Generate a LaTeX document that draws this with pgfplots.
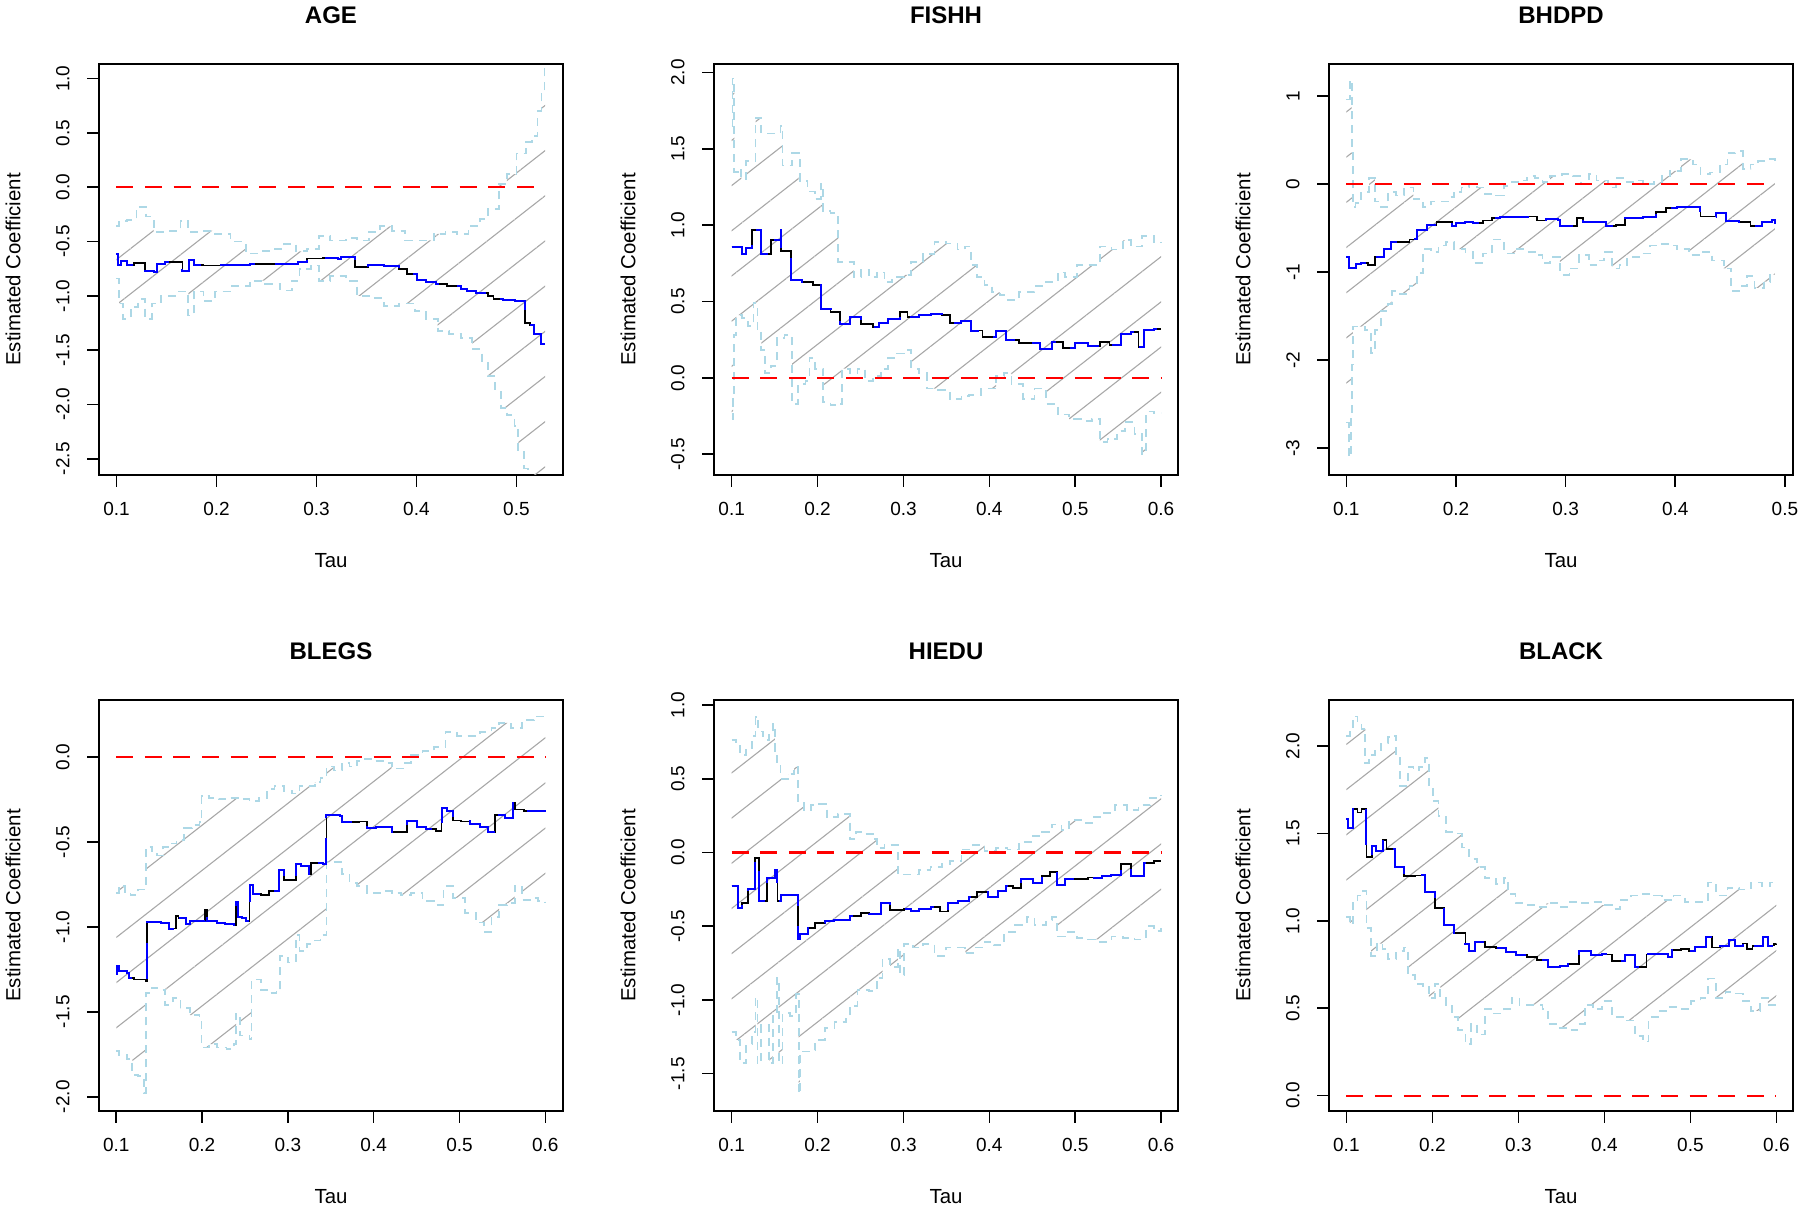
\documentclass[border=0pt]{standalone}
\usepackage{fontspec}
\setmainfont{Liberation Sans}
\usepackage{pgfplots}
\pgfplotsset{compat=1.18}
\usepgfplotslibrary{fillbetween}
\usetikzlibrary{patterns.meta}
\definecolor{lblue}{HTML}{ADD8E6}
\definecolor{hgray}{HTML}{A8A8A8}
\pgfplotsset{
  rpanel/.style={
    scale only axis, width=232pt, height=205.5pt, anchor=south west,
    axis line style={line width=0.8pt},
    tick style={black, line width=0.8pt},
    tick align=outside, major tick length=6pt,
    xtick pos=left, ytick pos=left,
    ticklabel style={font=\fontsize{9.5}{11}\selectfont, inner sep=0pt},
    xticklabel style={anchor=north},
    yticklabel style={rotate=90, anchor=south},
    xticklabel shift=7.5pt, yticklabel shift=8.5pt,
    xlabel={Tau}, ylabel={Estimated Coefficient},
    label style={font=\fontsize{10.2}{12}\selectfont, inner sep=0pt},
    xlabel style={at={(axis description cs:0.5,-0.19)}, anchor=north},
    ylabel style={at={(axis description cs:-0.168,0.5)}, anchor=south},
    every axis title shift=0pt,
    title style={font=\bfseries\fontsize{12}{14}\selectfont, at={(axis description cs:0.5,1.098)}, anchor=base, inner sep=0pt},
  },
  band/.style={const plot, lblue, line width=0.9pt, dash pattern=on 4pt off 3pt},
  ctrk/.style={const plot, black, line width=0.9pt},
  ctrb/.style={const plot, blue, line width=1pt, dash pattern=on 18pt off 10pt},
  zline/.style={red, line width=1.1pt, dash pattern=on 8.5pt off 5.8pt},
  hatch/.style={draw=none, pattern={Lines[angle=38,distance=17.8pt,line width=0.55pt]}, pattern color=hgray},
}
\begin{document}
\begin{tikzpicture}
\path (0,0) rectangle (900pt,604.5pt);
% ---------------- AGE
\begin{axis}[rpanel, at={(49.5pt,367pt)}, title={AGE},
  xmin=0.0825, xmax=0.5466, ymin=-2.649, ymax=1.135,
  xtick={0.1,0.2,0.3,0.4,0.5}, xticklabels={0.1,0.2,0.3,0.4,0.5},
  ytick={-2.5,-2,-1.5,-1,-0.5,0,0.5,1}, yticklabels={-2.5,-2.0,-1.5,-1.0,-0.5,0.0,0.5,1.0}]
\addplot[band, name path=U] table[row sep=\\]{x y\\
0.1000 -0.36\\ 0.1027 -0.31\\ 0.1104 -0.30\\ 0.1200 -0.18\\ 0.1296 -0.27\\ 0.1372 -0.41\\ 0.1488 -0.40\\ 0.1641 -0.31\\ 0.1718 -0.41\\ 0.1833 -0.40\\ 0.1987 -0.43\\ 0.2140 -0.50\\ 0.2294 -0.61\\ 0.2447 -0.59\\ 0.2562 -0.57\\ 0.2678 -0.52\\ 0.2793 -0.59\\ 0.2908 -0.57\\ 0.3023 -0.45\\ 0.3138 -0.49\\ 0.3292 -0.47\\ 0.3407 -0.49\\ 0.3522 -0.41\\ 0.3637 -0.36\\ 0.3752 -0.40\\ 0.3887 -0.49\\ 0.4021 -0.49\\ 0.4175 -0.43\\ 0.4290 -0.41\\ 0.4405 -0.43\\ 0.4520 -0.36\\ 0.4635 -0.29\\ 0.4712 -0.20\\ 0.4827 0.03\\ 0.4904 0.12\\ 0.5000 0.31\\ 0.5096 0.42\\ 0.5154 0.47\\ 0.5211 0.70\\ 0.5250 0.88\\ 0.5280 1.13\\ 0.5288 1.13\\
};
\addplot[band, name path=L] table[row sep=\\]{x y\\
0.1000 -0.84\\ 0.1027 -1.07\\ 0.1065 -1.21\\ 0.1142 -1.10\\ 0.1219 -1.03\\ 0.1288 -1.21\\ 0.1353 -1.07\\ 0.1449 -1.00\\ 0.1603 -0.96\\ 0.1718 -1.18\\ 0.1775 -0.96\\ 0.1871 -1.05\\ 0.1987 -0.96\\ 0.2140 -0.91\\ 0.2332 -0.86\\ 0.2486 -0.89\\ 0.2639 -0.95\\ 0.2754 -0.86\\ 0.2831 -0.75\\ 0.2946 -0.72\\ 0.3023 -0.86\\ 0.3138 -0.82\\ 0.3292 -0.86\\ 0.3407 -1.00\\ 0.3560 -1.02\\ 0.3676 -1.09\\ 0.3829 -1.07\\ 0.3983 -1.14\\ 0.4098 -1.21\\ 0.4213 -1.32\\ 0.4328 -1.35\\ 0.4443 -1.39\\ 0.4559 -1.49\\ 0.4655 -1.60\\ 0.4712 -1.74\\ 0.4789 -1.88\\ 0.4846 -2.03\\ 0.4904 -2.10\\ 0.4981 -2.20\\ 0.5019 -2.42\\ 0.5077 -2.59\\ 0.5115 -2.66\\ 0.5192 -2.85\\ 0.5250 -3.00\\ 0.5288 -3.10\\
};
\addplot[hatch] fill between[of=U and L];
\addplot[zline] coordinates {(0.1,0) (0.5288,0)};
\addplot[ctrk] table[row sep=\\]{x y\\
0.1000 -0.61\\ 0.1019 -0.715\\ 0.1046 -0.68\\ 0.1104 -0.715\\ 0.1173 -0.70\\ 0.1288 -0.77\\ 0.1380 -0.78\\ 0.1403 -0.71\\ 0.1488 -0.69\\ 0.1660 -0.77\\ 0.1726 -0.67\\ 0.1775 -0.715\\ 0.1871 -0.72\\ 0.2140 -0.715\\ 0.2332 -0.71\\ 0.2716 -0.71\\ 0.2812 -0.69\\ 0.2908 -0.655\\ 0.3061 -0.652\\ 0.3215 -0.66\\ 0.3242 -0.64\\ 0.3388 -0.733\\ 0.3514 -0.715\\ 0.3676 -0.726\\ 0.3829 -0.75\\ 0.3906 -0.80\\ 0.4002 -0.85\\ 0.4098 -0.875\\ 0.4194 -0.893\\ 0.4309 -0.91\\ 0.4443 -0.935\\ 0.4501 -0.956\\ 0.4597 -0.97\\ 0.4712 -1.00\\ 0.4770 -1.027\\ 0.4866 -1.04\\ 0.4981 -1.05\\ 0.5088 -1.247\\ 0.5134 -1.265\\ 0.5173 -1.353\\ 0.5242 -1.44\\ 0.5288 -1.44\\
};
\addplot[ctrb] table[row sep=\\]{x y\\
0.1000 -0.61\\ 0.1019 -0.715\\ 0.1046 -0.68\\ 0.1104 -0.715\\ 0.1173 -0.70\\ 0.1288 -0.77\\ 0.1380 -0.78\\ 0.1403 -0.71\\ 0.1488 -0.69\\ 0.1660 -0.77\\ 0.1726 -0.67\\ 0.1775 -0.715\\ 0.1871 -0.72\\ 0.2140 -0.715\\ 0.2332 -0.71\\ 0.2716 -0.71\\ 0.2812 -0.69\\ 0.2908 -0.655\\ 0.3061 -0.652\\ 0.3215 -0.66\\ 0.3242 -0.64\\ 0.3388 -0.733\\ 0.3514 -0.715\\ 0.3676 -0.726\\ 0.3829 -0.75\\ 0.3906 -0.80\\ 0.4002 -0.85\\ 0.4098 -0.875\\ 0.4194 -0.893\\ 0.4309 -0.91\\ 0.4443 -0.935\\ 0.4501 -0.956\\ 0.4597 -0.97\\ 0.4712 -1.00\\ 0.4770 -1.027\\ 0.4866 -1.04\\ 0.4981 -1.05\\ 0.5088 -1.247\\ 0.5134 -1.265\\ 0.5173 -1.353\\ 0.5242 -1.44\\ 0.5288 -1.44\\
};
\end{axis}
% ---------------- FISHH
\begin{axis}[rpanel, at={(357pt,367pt)}, title={FISHH},
  xmin=0.0794, xmax=0.6197, ymin=-0.636, ymax=2.055,
  xtick={0.1,0.2,0.3,0.4,0.5,0.6}, xticklabels={0.1,0.2,0.3,0.4,0.5,0.6},
  ytick={-0.5,0,0.5,1,1.5,2}, yticklabels={-0.5,0.0,0.5,1.0,1.5,2.0}]
\addplot[band, name path=U] table[row sep=\\]{x y\\
0.1000 1.65\\ 0.1009 1.96\\ 0.1031 1.35\\ 0.1076 1.37\\ 0.1112 1.30\\ 0.1166 1.42\\ 0.1278 1.70\\ 0.1345 1.60\\ 0.1569 1.65\\ 0.1591 1.39\\ 0.1703 1.47\\ 0.1793 1.29\\ 0.1883 1.22\\ 0.1972 1.17\\ 0.2039 1.27\\ 0.2062 1.09\\ 0.2151 1.08\\ 0.2241 0.76\\ 0.2331 0.76\\ 0.2420 0.66\\ 0.2510 0.71\\ 0.2599 0.66\\ 0.2689 0.69\\ 0.2779 0.625\\ 0.2868 0.66\\ 0.3003 0.675\\ 0.3092 0.76\\ 0.3227 0.81\\ 0.3361 0.89\\ 0.3496 0.88\\ 0.3630 0.84\\ 0.3720 0.86\\ 0.3787 0.74\\ 0.3854 0.66\\ 0.3944 0.61\\ 0.4033 0.56\\ 0.4123 0.54\\ 0.4212 0.51\\ 0.4347 0.56\\ 0.4436 0.56\\ 0.4526 0.60\\ 0.4660 0.625\\ 0.4795 0.69\\ 0.4884 0.66\\ 0.5019 0.74\\ 0.5153 0.74\\ 0.5288 0.86\\ 0.5422 0.84\\ 0.5556 0.90\\ 0.5646 0.86\\ 0.5780 0.93\\ 0.5915 0.89\\ 0.6000 0.88\\
};
\addplot[band, name path=L] table[row sep=\\]{x y\\
0.1000 -0.27\\ 0.1018 -0.14\\ 0.1031 0.28\\ 0.1054 0.41\\ 0.1121 0.39\\ 0.1188 0.34\\ 0.1255 0.49\\ 0.1300 0.31\\ 0.1345 0.18\\ 0.1390 0.03\\ 0.1457 0.08\\ 0.1524 0.26\\ 0.1614 0.28\\ 0.1681 0.26\\ 0.1703 -0.17\\ 0.1771 -0.04\\ 0.1860 -0.02\\ 0.1905 0.13\\ 0.1972 0.06\\ 0.2062 -0.16\\ 0.2151 -0.18\\ 0.2241 -0.17\\ 0.2286 0.06\\ 0.2375 0.03\\ 0.2465 0.06\\ 0.2555 -0.02\\ 0.2644 0.01\\ 0.2734 0.06\\ 0.2823 0.13\\ 0.2913 0.16\\ 0.3003 0.18\\ 0.3092 0.06\\ 0.3182 0.03\\ 0.3272 -0.07\\ 0.3406 -0.08\\ 0.3540 -0.14\\ 0.3675 -0.12\\ 0.3764 -0.11\\ 0.3899 -0.07\\ 0.3988 -0.07\\ 0.4078 0.01\\ 0.4168 0.03\\ 0.4257 -0.04\\ 0.4392 -0.14\\ 0.4526 -0.07\\ 0.4660 -0.17\\ 0.4795 -0.24\\ 0.4929 -0.27\\ 0.5064 -0.28\\ 0.5198 -0.27\\ 0.5288 -0.42\\ 0.5377 -0.40\\ 0.5489 -0.35\\ 0.5579 -0.29\\ 0.5691 -0.37\\ 0.5780 -0.50\\ 0.5825 -0.22\\ 0.5915 -0.23\\ 0.6000 -0.23\\
};
\addplot[hatch] fill between[of=U and L];
\addplot[zline] coordinates {(0.1,0) (0.6,0)};
\addplot[ctrk] table[row sep=\\]{x y\\
0.1000 0.857\\ 0.1121 0.81\\ 0.1166 0.85\\ 0.1233 0.97\\ 0.1336 0.81\\ 0.1457 0.90\\ 0.1569 0.97\\ 0.1578 0.83\\ 0.1690 0.64\\ 0.1815 0.625\\ 0.1950 0.61\\ 0.2039 0.45\\ 0.2151 0.43\\ 0.2263 0.35\\ 0.2375 0.40\\ 0.2510 0.35\\ 0.2644 0.33\\ 0.2711 0.36\\ 0.2823 0.385\\ 0.2958 0.43\\ 0.3048 0.40\\ 0.3182 0.41\\ 0.3316 0.42\\ 0.3451 0.41\\ 0.3540 0.36\\ 0.3675 0.37\\ 0.3787 0.31\\ 0.3921 0.27\\ 0.4078 0.305\\ 0.4190 0.247\\ 0.4347 0.227\\ 0.4593 0.19\\ 0.4728 0.235\\ 0.4862 0.197\\ 0.4996 0.227\\ 0.5153 0.21\\ 0.5288 0.235\\ 0.5400 0.214\\ 0.5534 0.29\\ 0.5646 0.30\\ 0.5736 0.20\\ 0.5803 0.315\\ 0.5915 0.32\\ 0.6000 0.32\\
};
\addplot[ctrb] table[row sep=\\]{x y\\
0.1000 0.857\\ 0.1121 0.81\\ 0.1166 0.85\\ 0.1233 0.97\\ 0.1336 0.81\\ 0.1457 0.90\\ 0.1569 0.97\\ 0.1578 0.83\\ 0.1690 0.64\\ 0.1815 0.625\\ 0.1950 0.61\\ 0.2039 0.45\\ 0.2151 0.43\\ 0.2263 0.35\\ 0.2375 0.40\\ 0.2510 0.35\\ 0.2644 0.33\\ 0.2711 0.36\\ 0.2823 0.385\\ 0.2958 0.43\\ 0.3048 0.40\\ 0.3182 0.41\\ 0.3316 0.42\\ 0.3451 0.41\\ 0.3540 0.36\\ 0.3675 0.37\\ 0.3787 0.31\\ 0.3921 0.27\\ 0.4078 0.305\\ 0.4190 0.247\\ 0.4347 0.227\\ 0.4593 0.19\\ 0.4728 0.235\\ 0.4862 0.197\\ 0.4996 0.227\\ 0.5153 0.21\\ 0.5288 0.235\\ 0.5400 0.214\\ 0.5534 0.29\\ 0.5646 0.30\\ 0.5736 0.20\\ 0.5803 0.315\\ 0.5915 0.32\\ 0.6000 0.32\\
};
\end{axis}
% ---------------- BHDPD
\begin{axis}[rpanel, at={(664.5pt,367pt)}, title={BHDPD},
  xmin=0.0842, xmax=0.5074, ymin=-3.306, ymax=1.363,
  xtick={0.1,0.2,0.3,0.4,0.5}, xticklabels={0.1,0.2,0.3,0.4,0.5},
  ytick={-3,-2,-1,0,1}, yticklabels={-3,-2,-1,0,1}]
\addplot[band, name path=U] table[row sep=\\]{x y\\
0.1000 0.96\\ 0.1032 1.18\\ 0.1049 0.35\\ 0.1060 -0.26\\ 0.1084 -0.22\\ 0.1137 -0.09\\ 0.1207 0.07\\ 0.1260 -0.20\\ 0.1313 -0.26\\ 0.1383 -0.09\\ 0.1453 -0.13\\ 0.1524 -0.04\\ 0.1612 -0.17\\ 0.1699 -0.26\\ 0.1770 -0.20\\ 0.1858 -0.20\\ 0.1928 -0.15\\ 0.1981 -0.09\\ 0.2051 -0.04\\ 0.2121 0.00\\ 0.2192 -0.04\\ 0.2262 -0.11\\ 0.2367 -0.13\\ 0.2438 -0.02\\ 0.2508 0.02\\ 0.2578 0.04\\ 0.2649 0.09\\ 0.2719 0.07\\ 0.2789 0.02\\ 0.2859 0.09\\ 0.2965 0.11\\ 0.3070 0.09\\ 0.3141 0.00\\ 0.3211 0.11\\ 0.3281 0.04\\ 0.3387 -0.04\\ 0.3457 0.07\\ 0.3527 0.02\\ 0.3633 0.04\\ 0.3703 0.00\\ 0.3808 0.02\\ 0.3879 0.09\\ 0.3949 0.15\\ 0.4054 0.28\\ 0.4160 0.22\\ 0.4230 0.11\\ 0.4318 0.13\\ 0.4406 0.22\\ 0.4476 0.35\\ 0.4547 0.37\\ 0.4617 0.17\\ 0.4687 0.22\\ 0.4758 0.26\\ 0.4828 0.28\\ 0.4909 0.24\\
};
\addplot[band, name path=L] table[row sep=\\]{x y\\
0.1000 -2.71\\ 0.1025 -3.10\\ 0.1042 -2.62\\ 0.1053 -2.05\\ 0.1060 -1.62\\ 0.1172 -1.66\\ 0.1225 -1.92\\ 0.1260 -1.66\\ 0.1313 -1.44\\ 0.1383 -1.36\\ 0.1418 -1.22\\ 0.1489 -1.25\\ 0.1576 -1.16\\ 0.1647 -1.01\\ 0.1699 -0.74\\ 0.1770 -0.77\\ 0.1840 -0.70\\ 0.1910 -0.66\\ 0.1981 -0.74\\ 0.2086 -0.77\\ 0.2156 -0.90\\ 0.2244 -0.79\\ 0.2332 -0.63\\ 0.2438 -0.79\\ 0.2543 -0.74\\ 0.2649 -0.77\\ 0.2736 -0.81\\ 0.2789 -0.90\\ 0.2859 -0.83\\ 0.2947 -1.03\\ 0.3035 -0.96\\ 0.3123 -0.81\\ 0.3211 -0.92\\ 0.3281 -0.87\\ 0.3352 -0.77\\ 0.3422 -0.96\\ 0.3492 -0.92\\ 0.3562 -0.83\\ 0.3668 -0.79\\ 0.3773 -0.70\\ 0.3844 -0.68\\ 0.3931 -0.70\\ 0.4019 -0.74\\ 0.4125 -0.81\\ 0.4230 -0.77\\ 0.4336 -0.87\\ 0.4441 -0.96\\ 0.4511 -1.22\\ 0.4582 -1.16\\ 0.4652 -1.05\\ 0.4722 -1.18\\ 0.4810 -1.11\\ 0.4863 -1.03\\ 0.4909 -1.05\\
};
\addplot[hatch] fill between[of=U and L];
\addplot[zline] coordinates {(0.1,0) (0.4909,0)};
\addplot[ctrk] table[row sep=\\]{x y\\
0.1000 -0.83\\ 0.1025 -0.96\\ 0.1084 -0.91\\ 0.1137 -0.90\\ 0.1197 -0.92\\ 0.1260 -0.83\\ 0.1341 -0.74\\ 0.1408 -0.66\\ 0.1489 -0.656\\ 0.1576 -0.63\\ 0.1647 -0.52\\ 0.1735 -0.47\\ 0.1823 -0.43\\ 0.1963 -0.48\\ 0.1998 -0.44\\ 0.2086 -0.43\\ 0.2156 -0.44\\ 0.2244 -0.415\\ 0.2332 -0.39\\ 0.2402 -0.38\\ 0.2649 -0.37\\ 0.2736 -0.415\\ 0.2824 -0.40\\ 0.2930 -0.415\\ 0.2947 -0.48\\ 0.3105 -0.39\\ 0.3158 -0.43\\ 0.3369 -0.48\\ 0.3457 -0.47\\ 0.3545 -0.39\\ 0.3633 -0.385\\ 0.3703 -0.38\\ 0.3826 -0.32\\ 0.3914 -0.275\\ 0.4019 -0.26\\ 0.4230 -0.37\\ 0.4371 -0.33\\ 0.4459 -0.42\\ 0.4582 -0.43\\ 0.4687 -0.48\\ 0.4793 -0.43\\ 0.4881 -0.415\\ 0.4909 -0.46\\
};
\addplot[ctrb] table[row sep=\\]{x y\\
0.1000 -0.83\\ 0.1025 -0.96\\ 0.1084 -0.91\\ 0.1137 -0.90\\ 0.1197 -0.92\\ 0.1260 -0.83\\ 0.1341 -0.74\\ 0.1408 -0.66\\ 0.1489 -0.656\\ 0.1576 -0.63\\ 0.1647 -0.52\\ 0.1735 -0.47\\ 0.1823 -0.43\\ 0.1963 -0.48\\ 0.1998 -0.44\\ 0.2086 -0.43\\ 0.2156 -0.44\\ 0.2244 -0.415\\ 0.2332 -0.39\\ 0.2402 -0.38\\ 0.2649 -0.37\\ 0.2736 -0.415\\ 0.2824 -0.40\\ 0.2930 -0.415\\ 0.2947 -0.48\\ 0.3105 -0.39\\ 0.3158 -0.43\\ 0.3369 -0.48\\ 0.3457 -0.47\\ 0.3545 -0.39\\ 0.3633 -0.385\\ 0.3703 -0.38\\ 0.3826 -0.32\\ 0.3914 -0.275\\ 0.4019 -0.26\\ 0.4230 -0.37\\ 0.4371 -0.33\\ 0.4459 -0.42\\ 0.4582 -0.43\\ 0.4687 -0.48\\ 0.4793 -0.43\\ 0.4881 -0.415\\ 0.4909 -0.46\\
};
\end{axis}
% ---------------- BLEGS
\begin{axis}[rpanel, at={(49.5pt,49pt)}, title={BLEGS},
  xmin=0.0799, xmax=0.6206, ymin=-2.084, ymax=0.335,
  xtick={0.1,0.2,0.3,0.4,0.5,0.6}, xticklabels={0.1,0.2,0.3,0.4,0.5,0.6},
  ytick={-2,-1.5,-1,-0.5,0}, yticklabels={-2.0,-1.5,-1.0,-0.5,0.0}]
\addplot[band, name path=U] table[row sep=\\]{x y\\
0.1000 -0.80\\ 0.1031 -0.76\\ 0.1098 -0.80\\ 0.1166 -0.815\\ 0.1255 -0.78\\ 0.1322 -0.77\\ 0.1345 -0.53\\ 0.1412 -0.555\\ 0.1479 -0.58\\ 0.1546 -0.53\\ 0.1613 -0.51\\ 0.1703 -0.49\\ 0.1792 -0.42\\ 0.1882 -0.40\\ 0.1971 -0.385\\ 0.1994 -0.23\\ 0.2083 -0.24\\ 0.2195 -0.25\\ 0.2329 -0.24\\ 0.2441 -0.25\\ 0.2553 -0.26\\ 0.2665 -0.24\\ 0.2755 -0.19\\ 0.2844 -0.17\\ 0.2956 -0.20\\ 0.3046 -0.215\\ 0.3135 -0.17\\ 0.3225 -0.17\\ 0.3314 -0.15\\ 0.3381 -0.125\\ 0.3449 -0.057\\ 0.3538 -0.08\\ 0.3628 -0.034\\ 0.3717 -0.057\\ 0.3807 -0.023\\ 0.3896 -0.01\\ 0.4008 -0.023\\ 0.4120 -0.034\\ 0.4209 -0.068\\ 0.4344 -0.034\\ 0.4433 0.011\\ 0.4568 0.034\\ 0.4702 0.057\\ 0.4836 0.147\\ 0.4970 0.125\\ 0.5105 0.125\\ 0.5239 0.147\\ 0.5373 0.17\\ 0.5463 0.20\\ 0.5597 0.17\\ 0.5731 0.215\\ 0.5866 0.238\\ 0.6000 0.227\\
};
\addplot[band, name path=L] table[row sep=\\]{x y\\
0.1000 -1.73\\ 0.1031 -1.755\\ 0.1121 -1.78\\ 0.1188 -1.87\\ 0.1255 -1.88\\ 0.1322 -1.98\\ 0.1345 -1.39\\ 0.1412 -1.36\\ 0.1479 -1.37\\ 0.1568 -1.46\\ 0.1658 -1.42\\ 0.1748 -1.48\\ 0.1859 -1.52\\ 0.1971 -1.55\\ 0.1994 -1.71\\ 0.2083 -1.69\\ 0.2173 -1.71\\ 0.2285 -1.72\\ 0.2374 -1.69\\ 0.2397 -1.51\\ 0.2441 -1.64\\ 0.2553 -1.66\\ 0.2576 -1.31\\ 0.2688 -1.37\\ 0.2777 -1.39\\ 0.2867 -1.37\\ 0.2911 -1.17\\ 0.3001 -1.21\\ 0.3090 -1.05\\ 0.3135 -1.14\\ 0.3225 -1.10\\ 0.3314 -1.08\\ 0.3381 -1.05\\ 0.3449 -0.62\\ 0.3538 -0.62\\ 0.3628 -0.69\\ 0.3717 -0.74\\ 0.3807 -0.76\\ 0.3918 -0.80\\ 0.4030 -0.80\\ 0.4120 -0.79\\ 0.4209 -0.80\\ 0.4321 -0.815\\ 0.4433 -0.80\\ 0.4568 -0.85\\ 0.4702 -0.87\\ 0.4814 -0.76\\ 0.4926 -0.83\\ 0.5060 -0.92\\ 0.5194 -0.975\\ 0.5284 -1.03\\ 0.5373 -0.94\\ 0.5463 -0.87\\ 0.5552 -0.86\\ 0.5642 -0.76\\ 0.5731 -0.84\\ 0.5821 -0.83\\ 0.5910 -0.85\\ 0.6000 -0.86\\
};
\addplot[hatch] fill between[of=U and L];
\addplot[zline] coordinates {(0.1,0) (0.6,0)};
\addplot[ctrk] table[row sep=\\]{x y\\
0.1000 -1.28\\ 0.1013 -1.23\\ 0.1031 -1.26\\ 0.1121 -1.27\\ 0.1143 -1.30\\ 0.1210 -1.31\\ 0.1345 -1.32\\ 0.1354 -0.97\\ 0.1524 -0.975\\ 0.1613 -1.01\\ 0.1694 -0.935\\ 0.1725 -0.947\\ 0.1815 -0.985\\ 0.1859 -0.967\\ 0.2038 -0.90\\ 0.2061 -0.967\\ 0.2173 -0.975\\ 0.2262 -0.985\\ 0.2374 -0.99\\ 0.2397 -0.854\\ 0.2419 -0.94\\ 0.2464 -0.947\\ 0.2509 -0.967\\ 0.2553 -0.754\\ 0.2598 -0.804\\ 0.2688 -0.815\\ 0.2777 -0.79\\ 0.2902 -0.668\\ 0.2956 -0.725\\ 0.3090 -0.63\\ 0.3158 -0.645\\ 0.3247 -0.69\\ 0.3269 -0.623\\ 0.3404 -0.63\\ 0.3449 -0.34\\ 0.3605 -0.35\\ 0.3628 -0.385\\ 0.3829 -0.38\\ 0.3918 -0.42\\ 0.4030 -0.41\\ 0.4098 -0.415\\ 0.4209 -0.44\\ 0.4389 -0.38\\ 0.4500 -0.415\\ 0.4612 -0.424\\ 0.4724 -0.437\\ 0.4791 -0.30\\ 0.4859 -0.317\\ 0.4926 -0.374\\ 0.5015 -0.38\\ 0.5127 -0.396\\ 0.5239 -0.415\\ 0.5329 -0.44\\ 0.5418 -0.34\\ 0.5530 -0.362\\ 0.5620 -0.272\\ 0.5642 -0.31\\ 0.5754 -0.317\\ 0.5910 -0.317\\ 0.6000 -0.324\\
};
\addplot[ctrb] table[row sep=\\]{x y\\
0.1000 -1.28\\ 0.1013 -1.23\\ 0.1031 -1.26\\ 0.1121 -1.27\\ 0.1143 -1.30\\ 0.1210 -1.31\\ 0.1345 -1.32\\ 0.1354 -0.97\\ 0.1524 -0.975\\ 0.1613 -1.01\\ 0.1694 -0.935\\ 0.1725 -0.947\\ 0.1815 -0.985\\ 0.1859 -0.967\\ 0.2038 -0.90\\ 0.2061 -0.967\\ 0.2173 -0.975\\ 0.2262 -0.985\\ 0.2374 -0.99\\ 0.2397 -0.854\\ 0.2419 -0.94\\ 0.2464 -0.947\\ 0.2509 -0.967\\ 0.2553 -0.754\\ 0.2598 -0.804\\ 0.2688 -0.815\\ 0.2777 -0.79\\ 0.2902 -0.668\\ 0.2956 -0.725\\ 0.3090 -0.63\\ 0.3158 -0.645\\ 0.3247 -0.69\\ 0.3269 -0.623\\ 0.3404 -0.63\\ 0.3449 -0.34\\ 0.3605 -0.35\\ 0.3628 -0.385\\ 0.3829 -0.38\\ 0.3918 -0.42\\ 0.4030 -0.41\\ 0.4098 -0.415\\ 0.4209 -0.44\\ 0.4389 -0.38\\ 0.4500 -0.415\\ 0.4612 -0.424\\ 0.4724 -0.437\\ 0.4791 -0.30\\ 0.4859 -0.317\\ 0.4926 -0.374\\ 0.5015 -0.38\\ 0.5127 -0.396\\ 0.5239 -0.415\\ 0.5329 -0.44\\ 0.5418 -0.34\\ 0.5530 -0.362\\ 0.5620 -0.272\\ 0.5642 -0.31\\ 0.5754 -0.317\\ 0.5910 -0.317\\ 0.6000 -0.324\\
};
\end{axis}
% ---------------- HIEDU
\begin{axis}[rpanel, at={(357pt,49pt)}, title={HIEDU},
  xmin=0.0794, xmax=0.6197, ymin=-1.753, ymax=1.034,
  xtick={0.1,0.2,0.3,0.4,0.5,0.6}, xticklabels={0.1,0.2,0.3,0.4,0.5,0.6},
  ytick={-1.5,-1,-0.5,0,0.5,1}, yticklabels={-1.5,-1.0,-0.5,0.0,0.5,1.0}]
\addplot[band, name path=U] table[row sep=\\]{x y\\
0.1000 0.765\\ 0.1054 0.74\\ 0.1099 0.66\\ 0.1166 0.71\\ 0.1233 0.79\\ 0.1278 0.92\\ 0.1309 0.82\\ 0.1367 0.765\\ 0.1435 0.82\\ 0.1479 0.87\\ 0.1502 0.69\\ 0.1524 0.61\\ 0.1569 0.50\\ 0.1659 0.53\\ 0.1726 0.58\\ 0.1771 0.35\\ 0.1838 0.29\\ 0.1927 0.32\\ 0.2017 0.33\\ 0.2107 0.24\\ 0.2241 0.26\\ 0.2375 0.09\\ 0.2443 0.14\\ 0.2555 0.125\\ 0.2644 0.09\\ 0.2689 0.03\\ 0.2779 0.05\\ 0.2935 -0.15\\ 0.3182 -0.12\\ 0.3316 -0.10\\ 0.3451 -0.08\\ 0.3540 -0.06\\ 0.3675 0.02\\ 0.3809 0.05\\ 0.3944 0.01\\ 0.4078 0.03\\ 0.4212 0.02\\ 0.4347 0.07\\ 0.4481 0.11\\ 0.4616 0.14\\ 0.4728 0.19\\ 0.4840 0.15\\ 0.4929 0.22\\ 0.5064 0.20\\ 0.5198 0.24\\ 0.5332 0.27\\ 0.5467 0.32\\ 0.5601 0.29\\ 0.5736 0.32\\ 0.5870 0.37\\ 0.6000 0.39\\
};
\addplot[band, name path=L] table[row sep=\\]{x y\\
0.1000 -1.22\\ 0.1054 -1.27\\ 0.1099 -1.43\\ 0.1166 -1.30\\ 0.1233 -1.22\\ 0.1278 -0.98\\ 0.1300 -1.43\\ 0.1345 -1.17\\ 0.1435 -1.43\\ 0.1479 -1.09\\ 0.1524 -0.85\\ 0.1547 -1.43\\ 0.1591 -1.09\\ 0.1681 -1.11\\ 0.1748 -0.96\\ 0.1780 -1.64\\ 0.1793 -1.35\\ 0.1905 -1.34\\ 0.1972 -1.27\\ 0.2084 -1.19\\ 0.2196 -1.15\\ 0.2331 -1.11\\ 0.2375 -1.04\\ 0.2465 -0.93\\ 0.2599 -0.94\\ 0.2689 -0.85\\ 0.2756 -0.72\\ 0.2846 -0.775\\ 0.2935 -0.645\\ 0.2958 -0.83\\ 0.3003 -0.62\\ 0.3115 -0.645\\ 0.3227 -0.62\\ 0.3361 -0.70\\ 0.3496 -0.645\\ 0.3720 -0.68\\ 0.3809 -0.645\\ 0.3944 -0.605\\ 0.4056 -0.63\\ 0.4168 -0.54\\ 0.4302 -0.49\\ 0.4436 -0.44\\ 0.4526 -0.49\\ 0.4660 -0.46\\ 0.4728 -0.44\\ 0.4786 -0.57\\ 0.4884 -0.54\\ 0.5019 -0.58\\ 0.5153 -0.59\\ 0.5288 -0.605\\ 0.5422 -0.57\\ 0.5556 -0.58\\ 0.5691 -0.59\\ 0.5825 -0.50\\ 0.5915 -0.53\\ 0.6000 -0.51\\
};
\addplot[hatch] fill between[of=U and L];
\addplot[zline] coordinates {(0.1,0) (0.6,0)};
\addplot[ctrk] table[row sep=\\]{x y\\
0.1000 -0.227\\ 0.1076 -0.378\\ 0.1121 -0.344\\ 0.1188 -0.25\\ 0.1269 -0.04\\ 0.1314 -0.33\\ 0.1412 -0.17\\ 0.1502 -0.12\\ 0.1533 -0.33\\ 0.1569 -0.29\\ 0.1771 -0.59\\ 0.1793 -0.55\\ 0.1883 -0.51\\ 0.1972 -0.48\\ 0.2084 -0.465\\ 0.2196 -0.46\\ 0.2375 -0.43\\ 0.2510 -0.41\\ 0.2599 -0.42\\ 0.2734 -0.34\\ 0.2846 -0.39\\ 0.3003 -0.385\\ 0.3092 -0.40\\ 0.3182 -0.38\\ 0.3316 -0.37\\ 0.3428 -0.40\\ 0.3518 -0.34\\ 0.3630 -0.33\\ 0.3764 -0.30\\ 0.3854 -0.27\\ 0.3988 -0.30\\ 0.4100 -0.26\\ 0.4190 -0.23\\ 0.4280 -0.24\\ 0.4369 -0.18\\ 0.4504 -0.21\\ 0.4616 -0.16\\ 0.4705 -0.13\\ 0.4786 -0.22\\ 0.4884 -0.18\\ 0.5153 -0.17\\ 0.5310 -0.16\\ 0.5422 -0.15\\ 0.5534 -0.08\\ 0.5646 -0.16\\ 0.5803 -0.07\\ 0.5915 -0.06\\ 0.6000 -0.06\\
};
\addplot[ctrb] table[row sep=\\]{x y\\
0.1000 -0.227\\ 0.1076 -0.378\\ 0.1121 -0.344\\ 0.1188 -0.25\\ 0.1269 -0.04\\ 0.1314 -0.33\\ 0.1412 -0.17\\ 0.1502 -0.12\\ 0.1533 -0.33\\ 0.1569 -0.29\\ 0.1771 -0.59\\ 0.1793 -0.55\\ 0.1883 -0.51\\ 0.1972 -0.48\\ 0.2084 -0.465\\ 0.2196 -0.46\\ 0.2375 -0.43\\ 0.2510 -0.41\\ 0.2599 -0.42\\ 0.2734 -0.34\\ 0.2846 -0.39\\ 0.3003 -0.385\\ 0.3092 -0.40\\ 0.3182 -0.38\\ 0.3316 -0.37\\ 0.3428 -0.40\\ 0.3518 -0.34\\ 0.3630 -0.33\\ 0.3764 -0.30\\ 0.3854 -0.27\\ 0.3988 -0.30\\ 0.4100 -0.26\\ 0.4190 -0.23\\ 0.4280 -0.24\\ 0.4369 -0.18\\ 0.4504 -0.21\\ 0.4616 -0.16\\ 0.4705 -0.13\\ 0.4786 -0.22\\ 0.4884 -0.18\\ 0.5153 -0.17\\ 0.5310 -0.16\\ 0.5422 -0.15\\ 0.5534 -0.08\\ 0.5646 -0.16\\ 0.5803 -0.07\\ 0.5915 -0.06\\ 0.6000 -0.06\\
};
\end{axis}
% ---------------- BLACK
\begin{axis}[rpanel, at={(664.5pt,49pt)}, title={BLACK},
  xmin=0.0798, xmax=0.6193, ymin=-0.088, ymax=2.264,
  xtick={0.1,0.2,0.3,0.4,0.5,0.6}, xticklabels={0.1,0.2,0.3,0.4,0.5,0.6},
  ytick={0,0.5,1,1.5,2}, yticklabels={0.0,0.5,1.0,1.5,2.0}]
\addplot[band, name path=U] table[row sep=\\]{x y\\
0.1000 2.06\\ 0.1040 2.08\\ 0.1076 2.17\\ 0.1130 2.13\\ 0.1175 2.10\\ 0.1220 1.905\\ 0.1264 1.95\\ 0.1332 1.97\\ 0.1399 2.015\\ 0.1488 2.05\\ 0.1533 2.06\\ 0.1578 1.93\\ 0.1623 1.77\\ 0.1712 1.88\\ 0.1780 1.86\\ 0.1847 1.88\\ 0.1914 1.93\\ 0.1959 1.77\\ 0.2004 1.685\\ 0.2071 1.60\\ 0.2160 1.51\\ 0.2250 1.50\\ 0.2340 1.42\\ 0.2429 1.355\\ 0.2519 1.31\\ 0.2608 1.245\\ 0.2743 1.21\\ 0.2832 1.245\\ 0.2877 1.155\\ 0.2967 1.10\\ 0.3101 1.09\\ 0.3236 1.08\\ 0.3325 1.10\\ 0.3460 1.08\\ 0.3594 1.11\\ 0.3728 1.10\\ 0.3863 1.11\\ 0.3975 1.09\\ 0.4087 1.07\\ 0.4177 1.12\\ 0.4311 1.145\\ 0.4445 1.155\\ 0.4580 1.145\\ 0.4669 1.12\\ 0.4804 1.145\\ 0.4938 1.11\\ 0.5073 1.11\\ 0.5207 1.22\\ 0.5297 1.145\\ 0.5431 1.19\\ 0.5566 1.18\\ 0.5700 1.22\\ 0.5834 1.20\\ 0.5924 1.22\\ 0.6000 1.205\\
};
\addplot[band, name path=L] table[row sep=\\]{x y\\
0.1000 1.02\\ 0.1040 0.98\\ 0.1076 1.11\\ 0.1130 1.145\\ 0.1197 1.17\\ 0.1233 0.96\\ 0.1287 0.80\\ 0.1354 0.87\\ 0.1421 0.837\\ 0.1488 0.78\\ 0.1578 0.826\\ 0.1668 0.848\\ 0.1712 0.69\\ 0.1802 0.64\\ 0.1892 0.628\\ 0.1959 0.56\\ 0.2026 0.64\\ 0.2093 0.56\\ 0.2160 0.52\\ 0.2228 0.45\\ 0.2295 0.374\\ 0.2384 0.297\\ 0.2452 0.41\\ 0.2519 0.35\\ 0.2608 0.496\\ 0.2698 0.47\\ 0.2832 0.496\\ 0.2922 0.56\\ 0.3012 0.52\\ 0.3146 0.52\\ 0.3280 0.496\\ 0.3348 0.41\\ 0.3460 0.385\\ 0.3572 0.374\\ 0.3684 0.41\\ 0.3773 0.52\\ 0.3863 0.496\\ 0.3975 0.54\\ 0.4087 0.45\\ 0.4221 0.43\\ 0.4356 0.34\\ 0.4445 0.31\\ 0.4513 0.45\\ 0.4625 0.485\\ 0.4737 0.507\\ 0.4871 0.496\\ 0.5005 0.54\\ 0.5117 0.56\\ 0.5207 0.67\\ 0.5297 0.56\\ 0.5409 0.595\\ 0.5521 0.584\\ 0.5610 0.54\\ 0.5700 0.485\\ 0.5812 0.56\\ 0.5901 0.52\\ 0.6000 0.54\\
};
\addplot[hatch] fill between[of=U and L];
\addplot[zline] coordinates {(0.1,0) (0.6,0)};
\addplot[ctrk] table[row sep=\\]{x y\\
0.1000 1.585\\ 0.1018 1.53\\ 0.1076 1.64\\ 0.1130 1.62\\ 0.1175 1.64\\ 0.1233 1.365\\ 0.1300 1.43\\ 0.1345 1.40\\ 0.1421 1.465\\ 0.1466 1.41\\ 0.1569 1.31\\ 0.1668 1.255\\ 0.1802 1.26\\ 0.1914 1.167\\ 0.2026 1.073\\ 0.2138 0.976\\ 0.2250 0.93\\ 0.2384 0.87\\ 0.2429 0.826\\ 0.2496 0.88\\ 0.2608 0.85\\ 0.2743 0.843\\ 0.2855 0.82\\ 0.2967 0.804\\ 0.3101 0.793\\ 0.3213 0.778\\ 0.3348 0.738\\ 0.3482 0.742\\ 0.3572 0.755\\ 0.3706 0.826\\ 0.3841 0.804\\ 0.3975 0.808\\ 0.4087 0.771\\ 0.4244 0.804\\ 0.4356 0.738\\ 0.4490 0.808\\ 0.4625 0.81\\ 0.4737 0.793\\ 0.4781 0.833\\ 0.4893 0.837\\ 0.4983 0.826\\ 0.5050 0.848\\ 0.5185 0.907\\ 0.5252 0.848\\ 0.5341 0.859\\ 0.5453 0.892\\ 0.5521 0.859\\ 0.5610 0.87\\ 0.5655 0.839\\ 0.5722 0.855\\ 0.5847 0.907\\ 0.5901 0.859\\ 0.5968 0.866\\ 0.6000 0.87\\
};
\addplot[ctrb] table[row sep=\\]{x y\\
0.1000 1.585\\ 0.1018 1.53\\ 0.1076 1.64\\ 0.1130 1.62\\ 0.1175 1.64\\ 0.1233 1.365\\ 0.1300 1.43\\ 0.1345 1.40\\ 0.1421 1.465\\ 0.1466 1.41\\ 0.1569 1.31\\ 0.1668 1.255\\ 0.1802 1.26\\ 0.1914 1.167\\ 0.2026 1.073\\ 0.2138 0.976\\ 0.2250 0.93\\ 0.2384 0.87\\ 0.2429 0.826\\ 0.2496 0.88\\ 0.2608 0.85\\ 0.2743 0.843\\ 0.2855 0.82\\ 0.2967 0.804\\ 0.3101 0.793\\ 0.3213 0.778\\ 0.3348 0.738\\ 0.3482 0.742\\ 0.3572 0.755\\ 0.3706 0.826\\ 0.3841 0.804\\ 0.3975 0.808\\ 0.4087 0.771\\ 0.4244 0.804\\ 0.4356 0.738\\ 0.4490 0.808\\ 0.4625 0.81\\ 0.4737 0.793\\ 0.4781 0.833\\ 0.4893 0.837\\ 0.4983 0.826\\ 0.5050 0.848\\ 0.5185 0.907\\ 0.5252 0.848\\ 0.5341 0.859\\ 0.5453 0.892\\ 0.5521 0.859\\ 0.5610 0.87\\ 0.5655 0.839\\ 0.5722 0.855\\ 0.5847 0.907\\ 0.5901 0.859\\ 0.5968 0.866\\ 0.6000 0.87\\
};
\end{axis}
\end{tikzpicture}
\end{document}
